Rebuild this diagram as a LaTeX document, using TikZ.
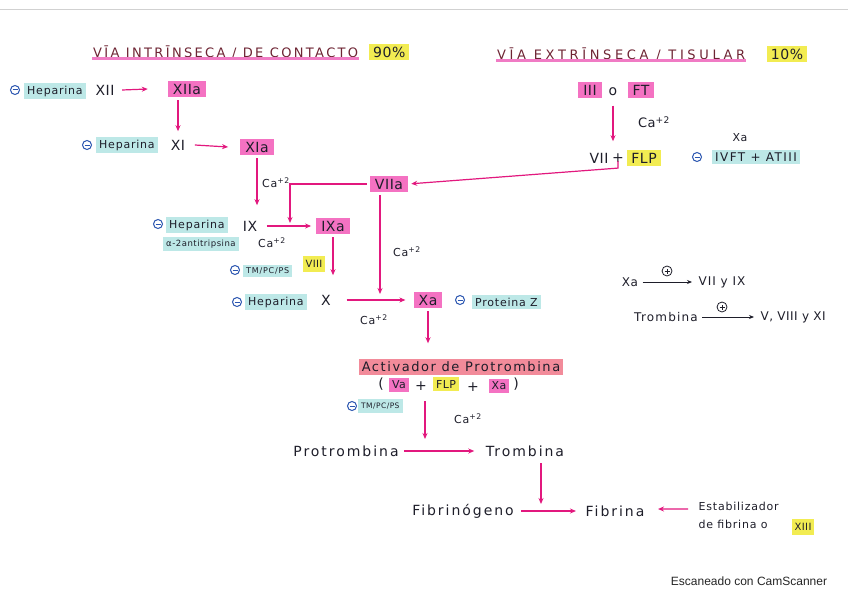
\documentclass[tikz,border=0pt]{standalone}
\usepackage{fontspec}
\setmainfont{DejaVu Sans}[LetterSpace=4]
\newfontfamily\camfont{Liberation Sans}
\usetikzlibrary{arrows.meta}
\definecolor{ink}{HTML}{1E1E2A}
\definecolor{arrc}{HTML}{E2187E}
\definecolor{hpink}{HTML}{F472C2}
\definecolor{hyel}{HTML}{F2EC52}
\definecolor{hcyan}{HTML}{BDE8E7}
\definecolor{hred}{HTML}{F28B9A}
\definecolor{negblue}{HTML}{2A55B0}
\definecolor{titc}{HTML}{6E2433}
\definecolor{uline}{HTML}{F07BC4}
\newcommand\CaTwo{Ca\textsuperscript{+2}}
\begin{document}
\begin{tikzpicture}[x=1pt,y=-1pt,
 txt/.style={text=ink,inner sep=1.5pt,font=\fontsize{14}{16}\selectfont},
 wd/.style={text=ink,inner sep=1.5pt,font=\fontsize{14}{16}\selectfont\addfontfeature{LetterSpace=14}},
 sm/.style={text=ink,inner sep=1.5pt,font=\fontsize{11}{13}\selectfont\addfontfeature{LetterSpace=7}},
 pk/.style={txt,fill=hpink,inner xsep=5pt,inner ysep=3pt},
 yl/.style={txt,fill=hyel,inner xsep=4pt,inner ysep=3pt},
 cy/.style={sm,fill=hcyan,inner xsep=3pt,inner ysep=2.5pt},
 neg/.style={circle,draw=negblue,line width=1pt,minimum size=9pt,inner sep=0pt,
   path picture={\draw[negblue,line width=1pt] ([xshift=-2.5pt]path picture bounding box.center) -- ([xshift=2.5pt]path picture bounding box.center);}},
 posc/.style={circle,draw=ink,line width=.8pt,minimum size=10pt,inner sep=0pt,
   path picture={\draw[ink,line width=.8pt] ([xshift=-2.5pt]path picture bounding box.center) -- ([xshift=2.5pt]path picture bounding box.center) ([yshift=-2.5pt]path picture bounding box.center) -- ([yshift=2.5pt]path picture bounding box.center);}},
 arr/.style={draw=arrc,line width=1.2pt,-{Stealth[length=6pt,width=5pt]}},
 blk/.style={draw=ink,line width=.8pt,-{Stealth[length=5pt,width=4pt]}},
 ttl/.style={text=titc,inner sep=1pt,font=\fontsize{13}{15}\selectfont\addfontfeature{LetterSpace=18}},
]
\useasboundingbox[fill=white] (0,0) rectangle (848,599);
\draw[black!18,line width=1pt] (0,10) -- (848,10);

% titles
\node[ttl,anchor=west] (t1) at (92,52) {VĪA INTRĪNSECA / DE CONTACTO};
\draw[uline,line width=3pt] ([yshift=1pt]t1.south west) -- ([yshift=1pt]t1.south east);
\node[yl,anchor=west] (p90) at (369,52) {90\%};
\node[ttl,anchor=west,font=\fontsize{13}{15}\selectfont\addfontfeature{LetterSpace=28}] (t2) at (496,54) {VĪA EXTRĪNSECA / TISULAR};
\draw[uline,line width=3pt] ([yshift=1pt]t2.south west) -- ([yshift=1pt]t2.south east);
\node[yl] (p10) at (787,54) {10\%};

% row 1
\node[neg] (n1) at (15,90) {};
\node[cy,anchor=west] (hep1) at (24,91) {Heparina};
\node[txt] (xii) at (105,90) {XII};
\node[pk] (xiia) at (187,89) {XIIa};
\draw[arr] ([xshift=6pt]xii.east) -- ([xshift=-20pt]xiia.west);

% row 2
\node[neg] (n2) at (87,145) {};
\node[cy,anchor=west] (hep2) at (96,145) {Heparina};
\node[txt] (xi) at (178,145) {XI};
\node[pk] (xia) at (257,147) {XIa};
\draw[arr] ([xshift=8pt]xi.east) -- ([xshift=-12pt]xia.west);
\draw[arr,shorten <=3pt,shorten >=7pt] (xiia.south -| xi.north) -- (xi.north);
\node[sm] (ca1) at (276,183) {\CaTwo};

\node[pk] (viia) at (389,184) {VIIa};

% row 3
\node[neg] (n3) at (158,224) {};
\node[cy,anchor=west] (hep3) at (166,225) {Heparina};
\node[txt] (ix) at (250,226) {IX};
\node[pk] (ixa) at (333,226) {IXa};
\coordinate (j1) at (290,226);
\draw[arr] ([xshift=8pt]ix.east) -- ([xshift=-5pt]ixa.west);
\draw[arr,shorten <=3pt,shorten >=14pt] (xia.south) -- (xia.south |- ix.north);
\draw[arr,shorten >=3pt] ([xshift=-3pt]viia.west) -| (j1);
\node[cy,anchor=west,font=\fontsize{8.5}{10}\selectfont\addfontfeature{LetterSpace=6}] (a2a) at (163,244) {α-2antitripsina};
\node[sm] (ca2) at (272,243) {\CaTwo};

\node[neg] (n4) at (235,270) {};
\node[cy,anchor=west,font=\fontsize{8}{10}\selectfont\addfontfeature{LetterSpace=10}] (tm1) at (243,271) {TM/PC/PS};
\node[yl,font=\fontsize{10}{12}\selectfont,inner ysep=4pt,inner xsep=3pt] (viii) at (314,264) {VIII};

% row 4
\node[neg] (n5) at (237,302) {};
\node[cy,anchor=west] (hep4) at (245,302) {Heparina};
\node[txt] (x) at (326,300) {X};
\node[pk] (xa) at (428,300) {Xa};
\coordinate (j2) at (380,300);
\draw[arr] ([xshift=14pt]x.east) -- ([xshift=-8pt]xa.west);
\draw[arr,shorten <=3pt,shorten >=18pt] (ixa.south) -- (ixa.south |- x.north);
\draw[arr,shorten <=3pt,shorten >=6pt] (viia.south -| j2) -- (j2);
\node[sm] (ca3) at (407,252) {\CaTwo};
\node[sm] (ca4) at (374,320) {\CaTwo};
\node[neg] (n6) at (460,300) {};
\node[cy,anchor=west] (pz) at (472,302) {Proteina Z};

% activador
\node[wd,fill=hred,inner xsep=3pt,inner ysep=2.5pt,font=\fontsize{13}{15}\selectfont\addfontfeature{LetterSpace=12}] (act) at (461,367) {Activador de Protrombina};
\draw[arr,shorten <=3pt,shorten >=16pt] (xa.south) -- (xa.south |- act.north);
\node[txt] (lp) at (381,384) {(};
\node[pk,font=\fontsize{11}{13}\selectfont,inner xsep=3pt] (va) at (399,385) {Va};
\node[txt] (pl1) at (421,386) {+};
\node[yl,font=\fontsize{11}{13}\selectfont,inner xsep=3pt] (flp2) at (446,384) {FLP};
\node[txt] (pl2) at (473,387) {+};
\node[pk,font=\fontsize{11}{13}\selectfont,inner xsep=3pt] (xa2) at (499,386) {Xa};
\node[txt] (rp) at (516,384) {)};
\node[neg] (n7) at (352,406) {};
\node[cy,anchor=west,inner ysep=3.5pt,font=\fontsize{7.5}{9}\selectfont\addfontfeature{LetterSpace=6}] (tm2) at (358,406) {TM/PC/PS};

% protrombina
\node[wd] (prot) at (346,451) {Protrombina};
\node[wd] (tromb) at (525,451) {Trombina};
\coordinate (j3) at (425,451);
\draw[arr] ([xshift=4pt]prot.east) -- ([xshift=-10pt]tromb.west);
\draw[arr,shorten <=9pt,shorten >=12pt] (j3 |- pl1.south) -- (j3);
\node[sm] (ca5) at (468,419) {\CaTwo};

% fibrina
\node[wd] (fibg) at (463,511) {Fibrinógeno};
\node[wd] (fib) at (615,511) {Fibrina};
\coordinate (j4) at (541,511);
\draw[arr] ([xshift=6pt]fibg.east) -- ([xshift=-8pt]fib.west);
\draw[arr,shorten <=5pt,shorten >=7pt] (tromb.south -| j4) -- (j4);
\node[sm,anchor=west] (estab1) at (697,506) {Estabilizador};
\node[sm,anchor=west] (estab2) at (697,524) {de fibrina o};
\node[yl,font=\fontsize{10}{12}\selectfont,inner xsep=3pt,inner ysep=4pt] (xiii) at (803,527) {XIII};
\draw[arr] ([xshift=-9pt,yshift=3pt]estab1.south west) -- ([xshift=12pt,yshift=2pt]fib.east);

% extrinseca
\node[pk] (iii) at (590,90) {III};
\node[txt] (o1) at (613,92) {o};
\node[pk] (ft) at (641,90) {FT};
\node[txt] (vii) at (599,158) {VII};
\node[txt] (plus) at (618,158) {+};
\node[yl] (flp) at (644,158) {FLP};
\draw[arr,shorten <=8pt,shorten >=10pt] (o1.south) -- (o1.south |- vii.north);
\node[sm,font=\fontsize{13}{15}\selectfont] (ca6) at (654,122) {\CaTwo};
\draw[arr,shorten >=3pt] ([yshift=3pt]plus.south) -- ++(0,7) -- (viia.east);
\node[txt,font=\fontsize{11}{13}\selectfont] (xa3) at (740,138) {Xa};
\node[neg] (n8) at (697,157) {};
\node[cy,anchor=west,font=\fontsize{12}{14}\selectfont\addfontfeature{LetterSpace=12}] (ivft) at (712,157) {IVFT + ATIII};

% right notes
\node[sm,font=\fontsize{12}{14}\selectfont] (xa4) at (630,282) {Xa};
\node[sm,anchor=west,font=\fontsize{12}{14}\selectfont\addfontfeature{LetterSpace=8}] (vy) at (697,282) {VII y IX};
\draw[blk] ([xshift=3pt]xa4.east) -- ([xshift=-5pt]vy.west);
\node[posc] (pc1) at (667,271) {};
\node[sm,font=\fontsize{12}{14}\selectfont\addfontfeature{LetterSpace=10}] (tr2) at (666,317) {Trombina};
\node[sm,anchor=west,font=\fontsize{12}{14}\selectfont\addfontfeature{LetterSpace=4}] (v8) at (759,317) {V, VIII y XI};
\draw[blk] ([xshift=3pt]tr2.east) -- ([xshift=-5pt]v8.west);
\node[posc] (pc2) at (722,307) {};

\node[text=black!85,inner sep=0pt,font=\camfont\fontsize{12}{14}\selectfont] (cs) at (749,581) {Escaneado con CamScanner};
\end{tikzpicture}
\end{document}
